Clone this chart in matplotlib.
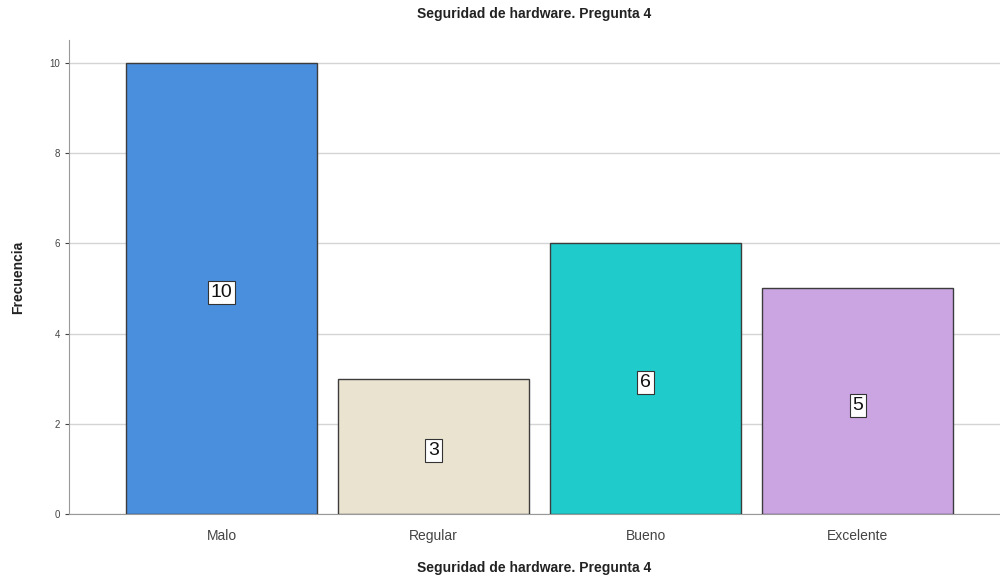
import numpy as np
import matplotlib.pyplot as plt

plt.rcParams['font.family'] = ['Liberation Sans', 'DejaVu Sans']

categorias = ["Malo", "Regular", "Bueno", "Excelente"]
frecuencias = [10, 3, 6, 5]
colores = ["#4a8ede", "#e9e3d0", "#1fcbcb", "#cba4e2"]
titulo = "Seguridad de hardware. Pregunta 4"

fig = plt.figure(figsize=(10, 5.82), dpi=100)
ax = fig.add_axes([0.069, 0.1168, 0.931, 0.8142])

x = np.arange(len(categorias))
barras = ax.bar(x, frecuencias, width=0.9, color=colores,
                edgecolor="#3c3c3c", linewidth=1.0, zorder=3)

# etiquetas de valor en el centro de cada barra (un poco por debajo)
for xi, v in zip(x, frecuencias):
    ax.annotate(str(v), (xi, v / 2), xytext=(0, -3), textcoords="offset points",
                ha="center", va="center", fontsize=14, color="#111111", zorder=4,
                bbox=dict(boxstyle="square,pad=0.15", fc="white", ec="#333333", lw=0.8))

ax.set_xlim(-0.72, 3.67)
ax.set_ylim(0, 10.5)
ax.set_yticks([0, 2, 4, 6, 8, 10])
ax.set_xticks(x)
ax.set_xticklabels(categorias, fontsize=10, color="#444444")
ax.tick_params(axis="y", labelsize=7, colors="#444444", length=3, width=0.8)
ax.tick_params(axis="x", length=0, pad=11)
ax.yaxis.grid(True, color="#d4d4d4", linewidth=1.0, zorder=0)

for lado in ["top", "right"]:
    ax.spines[lado].set_visible(False)
ax.spines["left"].set_color("#999999")
ax.spines["bottom"].set_color("#999999")

ax.set_title(titulo, fontsize=10, fontweight="bold", pad=16, color="#222222")
ax.set_xlabel(titulo, fontsize=10, fontweight="bold", labelpad=13, color="#222222")
ax.set_ylabel("Frecuencia", fontsize=10, fontweight="bold", labelpad=17, color="#222222")

fig.savefig("out.png", dpi=100)
